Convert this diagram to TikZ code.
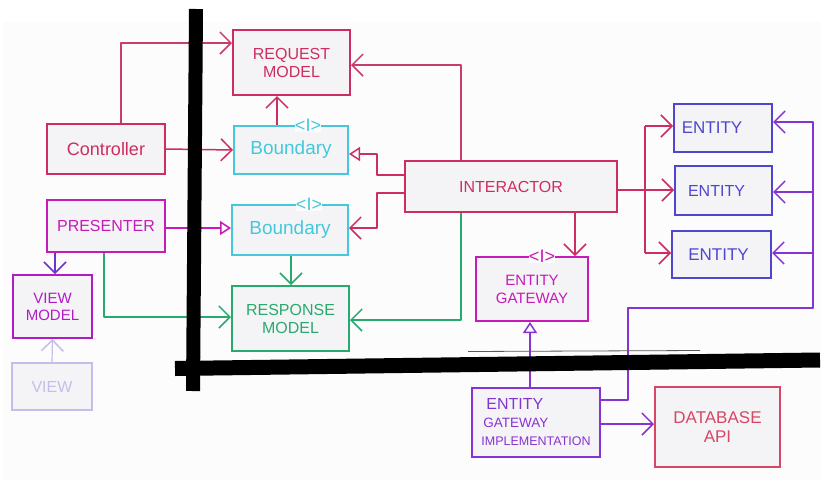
\documentclass[tikz,border=0pt]{standalone}
\usepackage{fontspec}
\setmainfont{Liberation Sans}
\usetikzlibrary{arrows.meta}

\definecolor{bgc}{RGB}{252,252,253}
\definecolor{boxfill}{RGB}{244,244,246}
\definecolor{crim}{RGB}{205,45,95}
\definecolor{crimlink}{RGB}{200,60,110}
\definecolor{cyanc}{RGB}{70,200,220}
\definecolor{magc}{RGB}{200,25,185}
\definecolor{vmc}{RGB}{180,25,200}
\definecolor{greenc}{RGB}{40,170,110}
\definecolor{bluec}{RGB}{80,70,205}
\definecolor{purplec}{RGB}{135,50,210}
\definecolor{violetc}{RGB}{110,50,205}
\definecolor{dbc}{RGB}{215,70,100}
\definecolor{viewc}{RGB}{195,190,235}

\begin{document}
\begin{tikzpicture}[x=1pt,y=-1pt,
  box/.style={draw, line width=2pt, inner sep=0pt, fill=boxfill, align=center,
              font=\fontsize{16}{18}\selectfont},
  link/.style={line width=1.5pt, line join=round},
  vee/.style={link, -{Straight Barb[length=11pt,width=22pt,line width=1.5pt]}},
  tri/.style={link, -{Triangle[open,length=11pt,width=14pt,line width=1.5pt]}},
  iface/.style={fill=bgc, inner sep=0.4pt, font=\fontsize{18}{18}\selectfont},
  wall/.style={line width=14pt, black}
]
\useasboundingbox (0,0) rectangle (828,480);
\fill[white] (0,0) rectangle (828,480);
\fill[bgc] (3,22) rectangle (821,480);

% ---------- boxes ----------
\node[box, draw=crim, text=crim, minimum width=117pt, minimum height=65pt] (req) at (291.5,62.5) {REQUEST\\MODEL};
\node[box, draw=crim, text=crim, minimum width=118pt, minimum height=50pt, font=\fontsize{18}{20}\selectfont] (ctrl) at (106,149) {Controller};
\node[box, draw=cyanc, text=cyanc, minimum width=114pt, minimum height=48pt, font=\fontsize{19}{21}\selectfont] (bnd1) at (291,150) {Boundary};
\node[box, draw=magc, text=magc, minimum width=118pt, minimum height=52pt] (pres) at (106,226) {PRESENTER};
\node[box, draw=cyanc, text=cyanc, minimum width=116pt, minimum height=50pt, font=\fontsize{19}{21}\selectfont] (bnd2) at (290,230) {Boundary};
\node[box, draw=greenc, text=greenc, minimum width=117pt, minimum height=65pt] (resp) at (290.5,318.5) {RESPONSE\\MODEL};
\node[box, draw=vmc, text=vmc, minimum width=79pt, minimum height=63pt, font=\fontsize{15}{17}\selectfont] (vm) at (52.5,306.5) {VIEW\\MODEL};
\node[box, draw=viewc, text=viewc, line width=1.5pt, minimum width=80pt, minimum height=47pt] (view) at (52,386.5) {VIEW};
\node[box, draw=crim, text=crim, minimum width=212pt, minimum height=51pt] (inter) at (511,186.5) {INTERACTOR};
\node[box, draw=bluec, text=bluec, minimum width=98pt, minimum height=48pt, font=\fontsize{17}{19}\selectfont] (ent1) at (723,128) {ENTITY\kern22pt};
\node[box, draw=bluec, text=bluec, minimum width=97pt, minimum height=49pt, font=\fontsize{16}{18}\selectfont] (ent2) at (723.5,190.5) {ENTITY\kern14pt};
\node[box, draw=bluec, text=bluec, minimum width=99pt, minimum height=47pt, font=\fontsize{17}{19}\selectfont] (ent3) at (721.5,254.5) {ENTITY\kern6pt};
\node[box, draw=magc, text=magc, minimum width=112pt, minimum height=64pt, font=\fontsize{15}{18}\selectfont] (egw) at (532,289) {ENTITY\\GATEWAY};
\node[box, draw=purplec, text=purplec, minimum width=128pt, minimum height=69pt, align=left, font=\fontsize{12.5}{18}\selectfont] (egi) at (536,422.5)
  {\kern5pt{\fontsize{16}{18}\selectfont ENTITY}\\\kern2pt{\fontsize{13.5}{18}\selectfont GATEWAY}\\IMPLEMENTATION};
\node[box, draw=dbc, text=dbc, minimum width=125pt, minimum height=80pt, font=\fontsize{17}{19}\selectfont] (db) at (717.5,427) {DATABASE\\API};

% interface markers on the top edges
\node[iface, text=cyanc] (i1) at (308,125) {<I>};
\node[iface, text=cyanc] (i2) at (309,204) {<I>};
\node[iface, text=magc] (i3) at (542,256) {<I>};

% ---------- routing points ----------
\coordinate (cA) at (121,43);
\coordinate (cB) at (277,0);
\coordinate (cC) at (461,65);
\coordinate (cD) at (377,175);
\coordinate (cE) at (377,154);
\coordinate (cF) at (377,193);
\coordinate (cG) at (377,228);
\coordinate (cH) at (291,0);
\coordinate (cI) at (104,317);
\coordinate (cJ) at (461,320);
\coordinate (cK) at (55,0);
\coordinate (cL) at (645,190);
\coordinate (cM) at (645,126);
\coordinate (cN) at (645,253);
\coordinate (cO) at (575,0);
\coordinate (cP) at (530,0);
\coordinate (cQ1) at (628,400);
\coordinate (cQ2) at (628,308);
\coordinate (cQ3) at (813,308);
\coordinate (cQ4) at (813,122);
\coordinate (cR) at (813,192);
\coordinate (cS) at (813,253);
\coordinate (cT) at (600,424);

% ---------- connectors ----------
\draw[vee, crimlink] (ctrl.north -| cA) -- (cA) -- (req.west |- cA);
\draw[vee, crim] (ctrl.east) -- (bnd1.west);
\draw[vee, crim] (bnd1.north -| cB) -- (req.south -| cB);
\draw[vee, crimlink] (inter.north -| cC) -- (cC) -- (req.east |- cC);
\draw[tri, crim] (inter.west |- cD) -- (cD) -- (cE) -- (bnd1.east |- cE);
\draw[vee, crim] (inter.west |- cF) -- (cF) -- (cG) -- (bnd2.east |- cG);
\draw[tri, magc] (pres.east |- cG) -- (bnd2.west |- cG);
\draw[vee, greenc] (bnd2.south -| cH) -- (resp.north -| cH);
\draw[vee, greenc] (pres.south -| cI) -- (cI) -- (resp.west |- cI);
\draw[vee, greenc] (inter.south -| cJ) -- (cJ) -- (resp.east |- cJ);
\draw[vee, violetc] (pres.south -| cK) -- (vm.north -| cK);
\draw[vee, viewc, line width=1.2pt] (view.north) -- (vm.south);
\draw[vee, crim] (inter.east |- cL) -- (ent2.west |- cL);
\draw[link, crim] (cM) -- (cN);
\draw[vee, crim] (cM) -- (ent1.west |- cM);
\draw[vee, crim] (cN) -- (ent3.west |- cN);
\draw[vee, crim] (inter.south -| cO) -- (egw.north -| cO);
\draw[tri, purplec] (egi.north -| cP) -- (egw.south -| cP);
\draw[vee, purplec] (egi.east |- cQ1) -- (cQ1) -- (cQ2) -- (cQ3) -- (cQ4) -- (ent1.east |- cQ4);
\draw[vee, purplec] (cR) -- (ent2.east |- cR);
\draw[vee, purplec] (cS) -- (ent3.east |- cS);
\draw[vee, purplec] (egi.east |- cT) -- (db.west |- cT);

% ---------- architectural boundaries ----------
\coordinate (w1) at (196,9);
\coordinate (w2) at (193,391);
\coordinate (w3) at (175,368.5);
\coordinate (w4) at (820,360);
\draw[gray!70!black, line width=0.8pt] (468,351.5) -- (700,350.5);
\draw[wall] (w1) -- (w2);
\draw[wall, line width=15pt] (w3) -- (w4);
\end{tikzpicture}
\end{document}
